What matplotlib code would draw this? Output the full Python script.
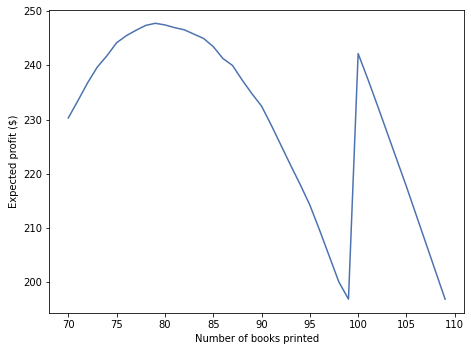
import numpy as np
import matplotlib
matplotlib.use("Agg")
import matplotlib.pyplot as plt

# data
books = list(range(70, 110))
profit = [230.3, 233.5, 236.8, 239.7, 241.8, 244.2, 245.5, 246.5, 247.4, 247.8,
          247.5, 247.0, 246.6, 245.8, 245.0, 243.5, 241.3, 240.0, 237.3, 234.8,
          232.5, 229.0, 225.3, 221.6, 218.0, 214.2, 209.6, 204.8, 200.0, 196.8,
          242.2, 237.5, 232.6, 227.6, 222.6, 217.6, 212.4, 207.2, 202.0, 196.8]

fig = plt.figure(figsize=(471 / 72, 352 / 72), dpi=72)
ax = fig.add_subplot(1, 1, 1)

ax.plot(books, profit, color="#4c72b0", lw=1.5)

ax.set_xlabel("Number of books printed")
ax.set_ylabel("Expected profit ($)")

plt.subplots_adjust(left=0.105, bottom=0.111, right=0.985, top=0.973)

fig.savefig("out.png", dpi=72)
